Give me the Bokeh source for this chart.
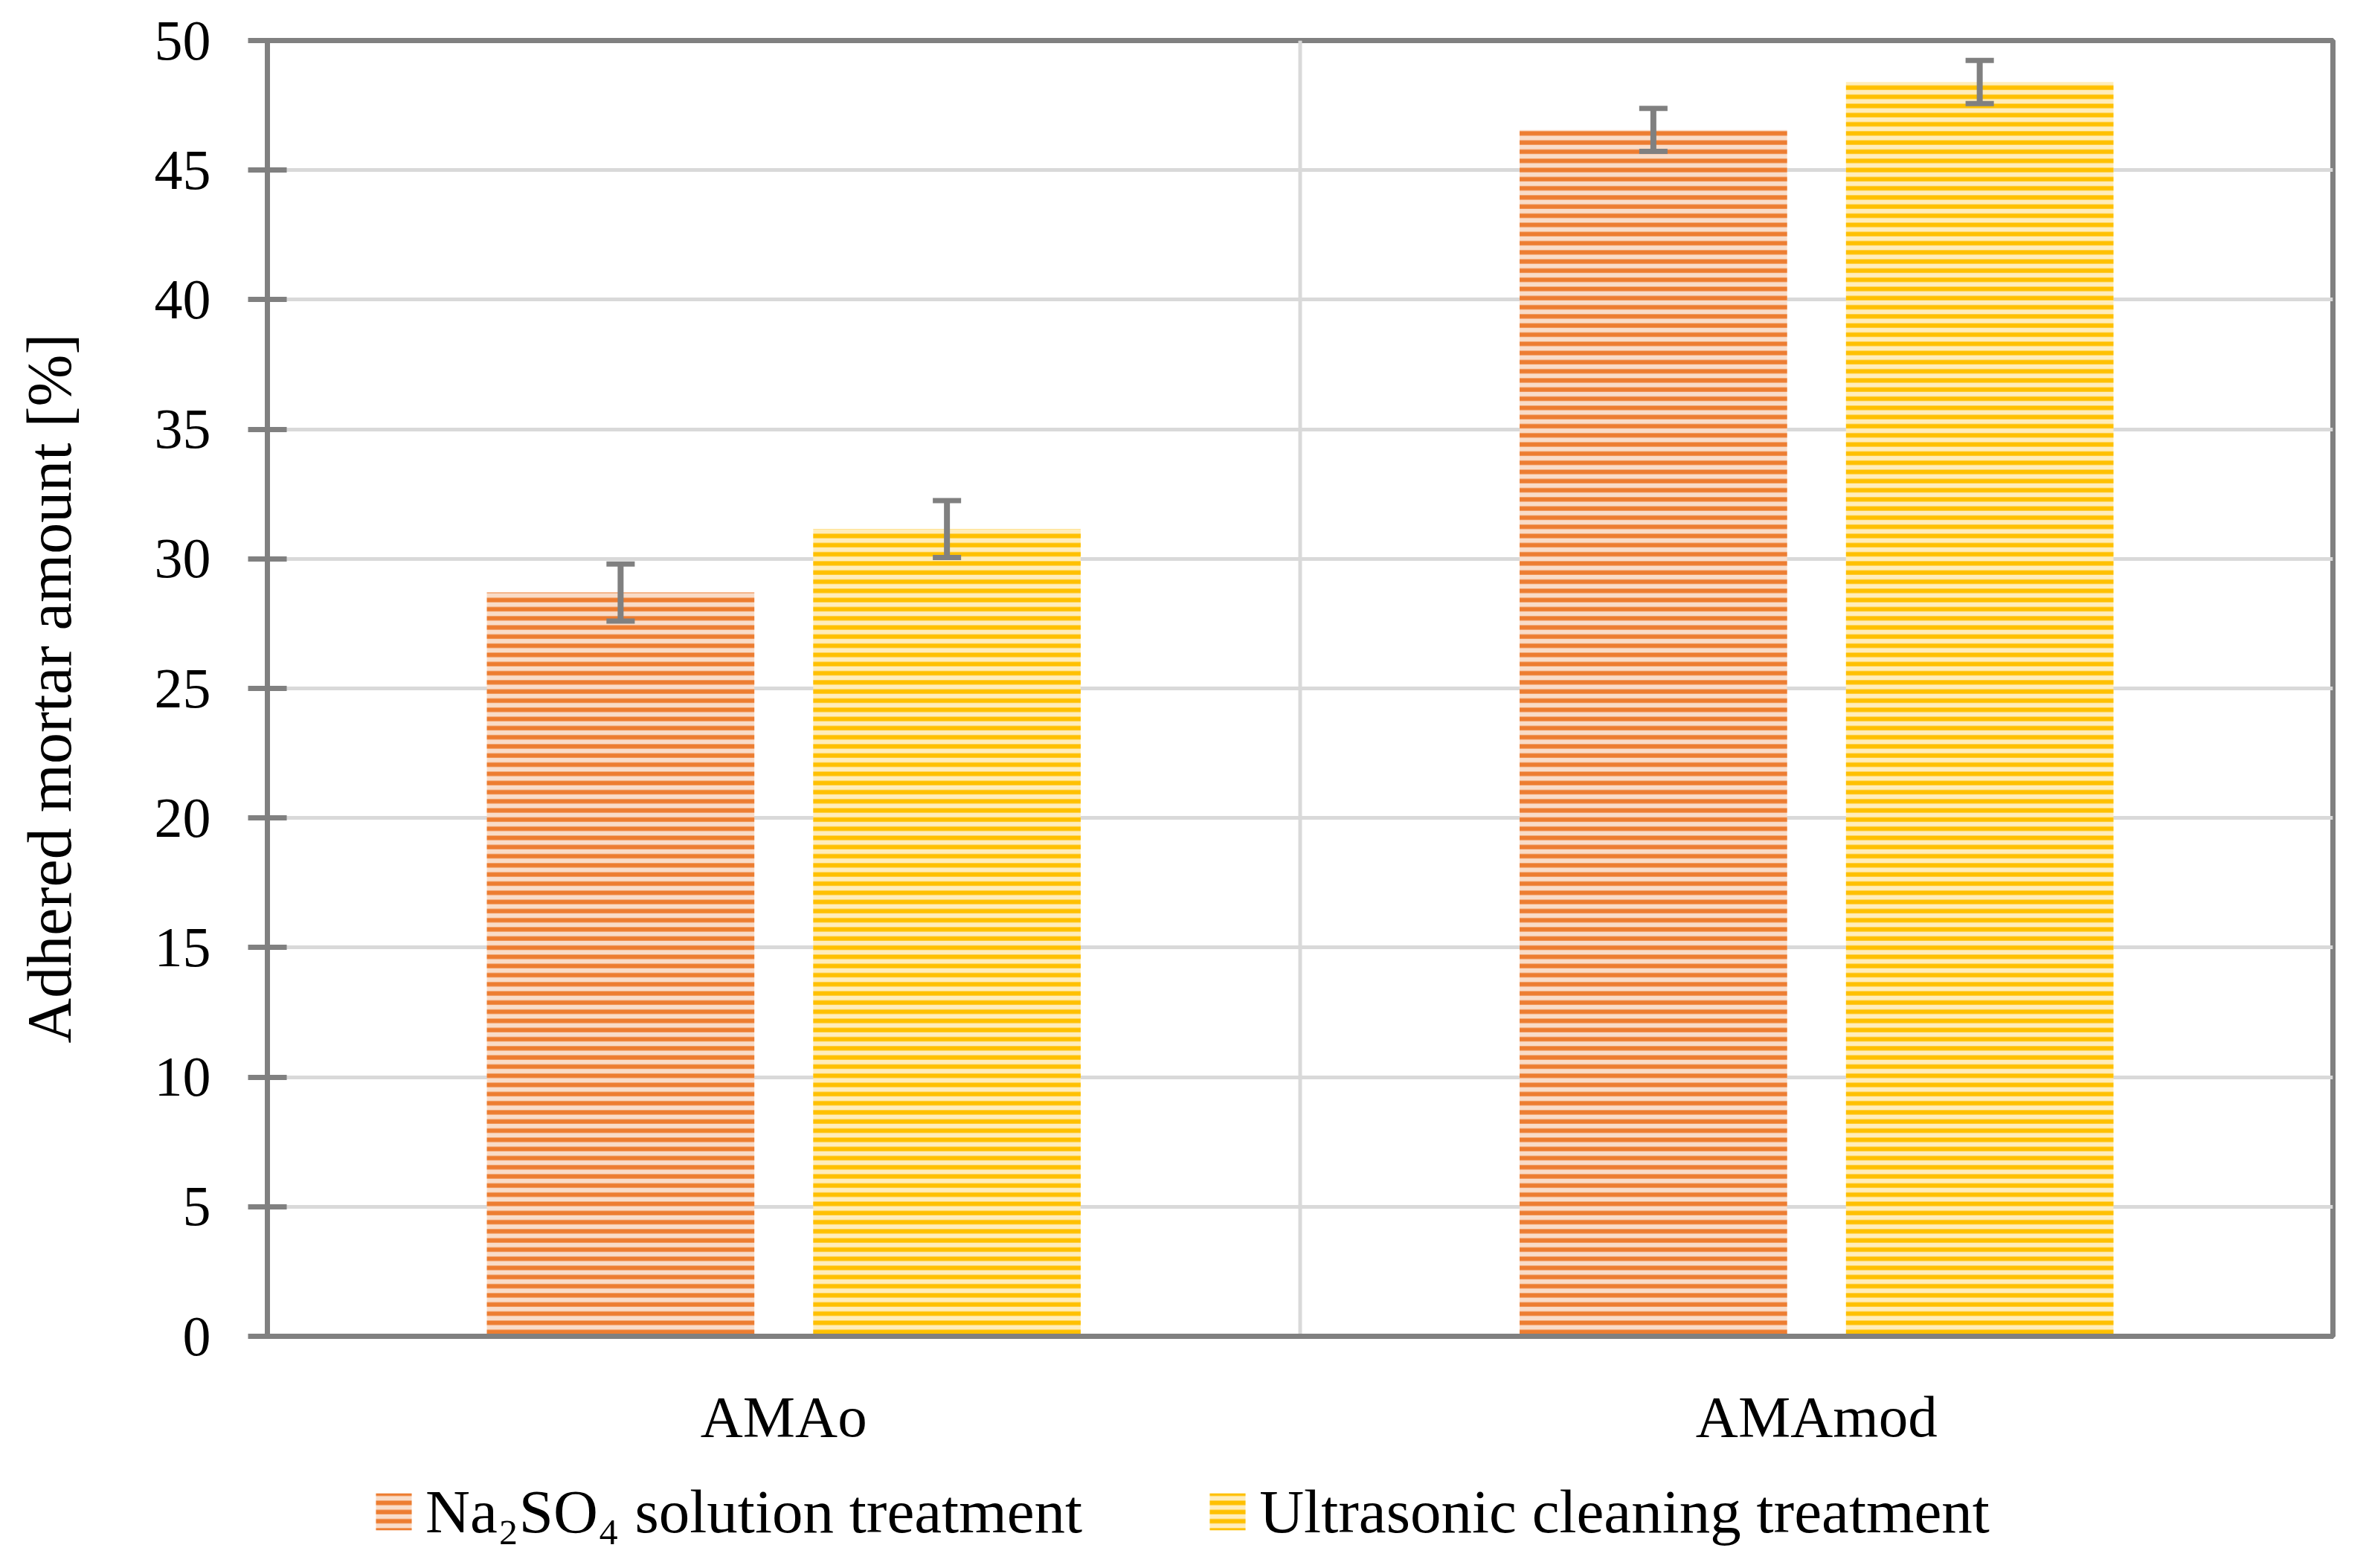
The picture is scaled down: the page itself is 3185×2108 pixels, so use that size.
from bokeh.plotting import figure
from bokeh.layouts import column
from bokeh.models import (FactorRange, Range1d, SingleIntervalTicker, Span,
                          Legend, LegendItem, ColumnDataSource)
from bokeh.transform import dodge
from bokeh.embed import file_html
from bokeh.resources import INLINE

# ---- data ----
categories = ["AMAo", "AMAmod"]
na2so4 = [28.7, 46.55]
na2so4_err = [1.1, 0.83]
ultrasonic = [31.15, 48.4]
ultrasonic_err = [1.1, 0.83]
series_labels = ["Na\u2082SO\u2084 solution treatment", "Ultrasonic cleaning treatment"]
y_ticks_interval = 5

FONT = "Liberation Serif"
AXIS_GRAY = "#808080"
GRID_GRAY = "#D9D9D9"
ORANGE = "#ED7D31"
ORANGE_LIGHT = "#F9DCC8"
YELLOW = "#FFC000"
YELLOW_LIGHT = "#FFEDBB"

src = ColumnDataSource(dict(
    x=categories,
    a=na2so4, a_lo=[v - e for v, e in zip(na2so4, na2so4_err)], a_hi=[v + e for v, e in zip(na2so4, na2so4_err)],
    b=ultrasonic, b_lo=[v - e for v, e in zip(ultrasonic, ultrasonic_err)], b_hi=[v + e for v, e in zip(ultrasonic, ultrasonic_err)],
))

W = 3169
H1 = 1975
H2 = 117
p = figure(width=W, height=H1, x_range=FactorRange(*categories, range_padding=0),
           y_range=Range1d(0, 50), output_backend="svg", toolbar_location=None,
           min_border_left=359, min_border_right=33, min_border_top=54, min_border_bottom=H1 - 54 - 1742)
p.background_fill_color = "white"
p.border_fill_color = "white"
p.outline_line_color = AXIS_GRAY
p.outline_line_width = 7

OFF = 0.158
BW = 0.259
CAP = 0.0137

bar_styles = [dict(fill_color=ORANGE_LIGHT, line_color=None, hatch_pattern="horizontal_line",
                   hatch_color=ORANGE, hatch_scale=12.3, hatch_weight=6),
              dict(fill_color=YELLOW_LIGHT, line_color=None, hatch_pattern="horizontal_line",
                   hatch_color=YELLOW, hatch_scale=12.3, hatch_weight=6)]

p.vbar(x=dodge("x", -OFF, range=p.x_range), top="a", width=BW, source=src, **bar_styles[0])
p.vbar(x=dodge("x", OFF, range=p.x_range), top="b", width=BW, source=src, **bar_styles[1])

# error bars
for off, lo, hi in [(-OFF, "a_lo", "a_hi"), (OFF, "b_lo", "b_hi")]:
    p.segment(x0=dodge("x", off, range=p.x_range), x1=dodge("x", off, range=p.x_range),
              y0=lo, y1=hi, source=src, line_color=AXIS_GRAY, line_width=8)
    for yy in (lo, hi):
        p.segment(x0=dodge("x", off - CAP, range=p.x_range), x1=dodge("x", off + CAP, range=p.x_range),
                  y0=yy, y1=yy, source=src, line_color=AXIS_GRAY, line_width=7)

# grid
p.xgrid.visible = False
p.ygrid.grid_line_color = GRID_GRAY
p.ygrid.grid_line_width = 5
p.add_layout(Span(location=1, dimension="height", line_color=GRID_GRAY, line_width=5, level="underlay"))

# y axis
ya = p.yaxis[0]
ya.ticker = SingleIntervalTicker(interval=y_ticks_interval)
ya.axis_line_color = AXIS_GRAY
ya.axis_line_width = 7
ya.major_tick_line_color = AXIS_GRAY
ya.major_tick_line_width = 7
ya.major_tick_out = 26
ya.major_tick_in = 26
ya.minor_tick_line_color = None
ya.major_label_text_font = FONT
ya.major_label_text_font_size = "76px"
ya.major_label_text_color = "black"
ya.major_label_standoff = 50
ya.axis_label = "Adhered mortar amount [%]"
ya.axis_label_text_font = FONT
ya.axis_label_text_font_size = "84px"
ya.axis_label_text_font_style = "normal"
ya.axis_label_text_color = "black"
ya.axis_label_standoff = 92

# x axis
xa = p.xaxis[0]
xa.axis_line_color = AXIS_GRAY
xa.axis_line_width = 7
xa.major_tick_line_color = None
xa.major_tick_out = 0
xa.major_tick_in = 0
xa.minor_tick_line_color = None
xa.major_label_text_font = FONT
xa.major_label_text_font_size = "79px"
xa.major_label_text_color = "black"
xa.major_label_standoff = 64

# ---- legend strip (separate figure so nothing gets clipped) ----
pl = figure(width=W, height=H2, x_range=Range1d(0, 1), y_range=Range1d(0, 1),
            output_backend="svg", toolbar_location=None,
            x_axis_location=None, y_axis_location=None, min_border=0)
pl.grid.visible = False
pl.outline_line_color = None
pl.background_fill_color = "white"
pl.border_fill_color = "white"
# key swatches: renderers holding a single zero-height bar (nothing visible)
hidden = ColumnDataSource(dict(x=[0.5], top=[0.0]))
lr1 = pl.vbar(x="x", top="top", width=0.0, source=hidden, **bar_styles[0])
lr2 = pl.vbar(x="x", top="top", width=0.0, source=hidden, **bar_styles[1])

# the strip's frame is aligned with the chart's frame by the column layout
legend = Legend(items=[LegendItem(label=series_labels[0], renderers=[lr1]),
                       LegendItem(label=series_labels[1], renderers=[lr2])],
                orientation="horizontal", location=(140, 12),
                glyph_width=60, glyph_height=62, label_standoff=13, spacing=165,
                label_text_font=FONT, label_text_font_size="83px", label_text_color="black",
                padding=0, margin=0, border_line_color=None, background_fill_alpha=0)
pl.add_layout(legend, "center")

layout = column(p, pl, spacing=0)
open("out.html", "w").write(file_html(layout, INLINE))
